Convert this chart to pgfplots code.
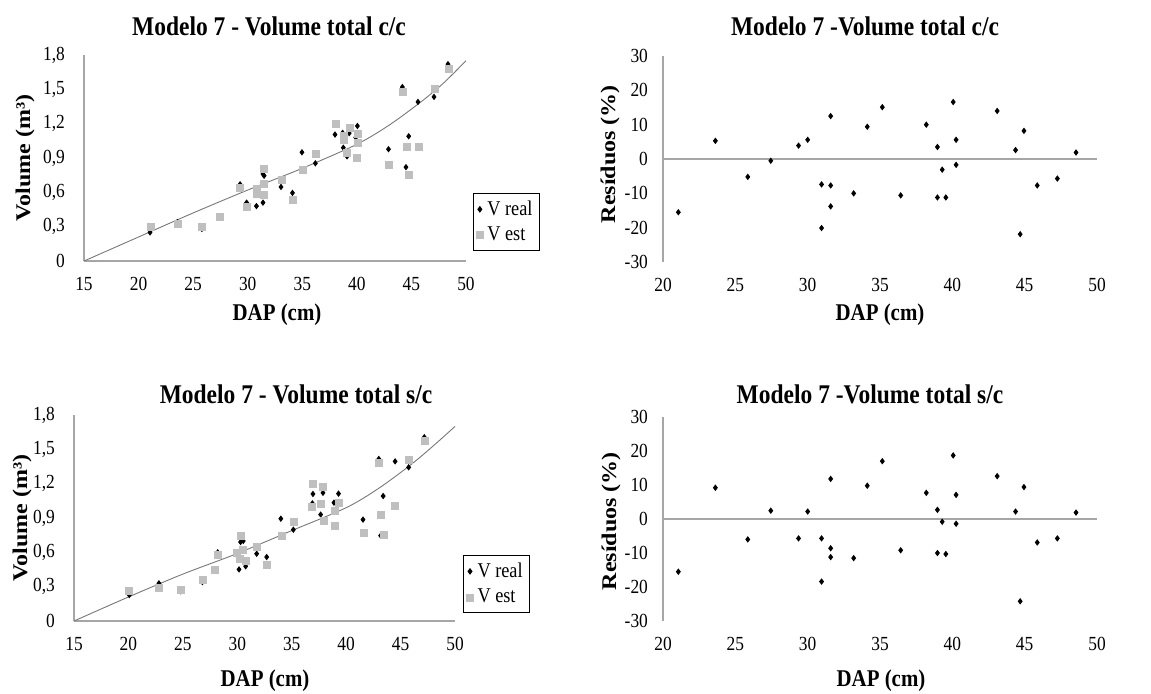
\documentclass[border=0pt]{standalone}
\usepackage{fontspec}
\setmainfont{Liberation Serif}
\usepackage{graphicx}
\usepackage{pgfplots}
\pgfplotsset{compat=1.18}

\definecolor{estgray}{RGB}{191,191,191}
\definecolor{axisgray}{RGB}{166,166,166}
\definecolor{fitgray}{RGB}{120,120,120}
\newcommand{\sq}[1]{\scalebox{0.87}[1]{#1}}
\newcommand{\ttl}[1]{\fontsize{13.5}{15}\selectfont\bfseries\sq{#1}}
\newcommand{\lbl}[1]{\fontsize{12}{14}\selectfont\bfseries\sq{#1}}

\pgfplotsset{
  base/.style={scale only axis, enlargelimits=false, clip=false,
    major tick length=0pt, tick style={draw=none},
    tick label style={font=\fontsize{10}{12}\selectfont},
    xticklabel style={yshift=-4.5pt}},
  volaxis/.style={base, width=191pt, height=103pt,
    xmin=15, xmax=50, ymin=0, ymax=1.8,
    axis lines=left, axis line style={-, draw=axisgray, line width=0.6pt},
    xtick={15,20,25,30,35,40,45,50},
    xticklabels={\sq{15},\sq{20},\sq{25},\sq{30},\sq{35},\sq{40},\sq{45},\sq{50}},
    ytick={0,0.3,0.6,0.9,1.2,1.5,1.8},
    yticklabels={\sq{0},\sq{0,3},\sq{0,6},\sq{0,9},\sq{1,2},\sq{1,5},\sq{1,8}},
    yticklabel style={xshift=-6pt},
    legend style={draw=black, line width=0.5pt,
      font=\fontsize{10.5}{12}\selectfont, inner sep=1.5pt, row sep=0.5pt,
      cells={anchor=west}},
    legend image code/.code={\draw[mark repeat=2,mark phase=2,#1]
      plot coordinates {(0cm,0cm) (0.12cm,0cm) (0.24cm,0cm)};}},
  resaxis/.style={base, width=217pt, height=103pt,
    xmin=20, xmax=50, ymin=-30, ymax=30,
    axis lines=left, x axis line style={draw=none},
    y axis line style={-, draw=axisgray, line width=0.6pt},
    xtick={20,25,30,35,40,45,50},
    xticklabels={\sq{20},\sq{25},\sq{30},\sq{35},\sq{40},\sq{45},\sq{50}},
    ytick={-30,-20,-10,0,10,20,30},
    yticklabels={\sq{-30},\sq{-20},\sq{-10},\sq{0},\sq{10},\sq{20},\sq{30}},
    yticklabel style={xshift=-4pt}},
  real/.style={only marks, mark=diamond*, mark size=1.3pt, black},
  est/.style={only marks, mark=square*, mark size=1.75pt, estgray,
    mark options={draw=estgray, fill=estgray}},
  fit/.style={fitgray, line width=0.45pt, mark=none, smooth},
}

\begin{document}
\begin{tikzpicture}
\useasboundingbox (0pt,0pt) rectangle (575.5pt,-346.5pt);

% ---------- Modelo 7 - Volume total c/c ----------
\begin{axis}[volaxis, at={(42pt,-130.5pt)}, anchor=south west,
  legend style={at={(1.018,0.33)}, anchor=north west}]
\addplot[real] coordinates {
  (21.05,0.25) (23.55,0.34) (25.8,0.28) (27.4,0.386) (29.3,0.67) (29.9,0.51)
  (30.8,0.48) (30.85,0.58) (31.4,0.51) (31.4,0.76) (31.5,0.745) (33.05,0.647)
  (34.1,0.595) (34.97,0.95) (36.2,0.854) (38.0,1.105) (38.7,1.12) (38.76,0.99)
  (39.1,0.915) (39.3,1.117) (39.9,1.08) (40.05,1.18) (42.9,0.977) (44.17,1.52)
  (44.5,0.82) (44.75,1.09) (45.6,1.39) (47.07,1.434) (48.35,1.72)
};
\addplot[est] coordinates {
  (21.1,0.297) (23.64,0.32) (25.78,0.297) (27.43,0.388) (29.32,0.638)
  (29.97,0.475) (30.85,0.627) (30.85,0.583) (31.5,0.807) (31.5,0.676)
  (31.5,0.574) (33.1,0.706) (34.1,0.534) (35.04,0.80) (36.26,0.94)
  (38.06,1.198) (38.8,1.09) (38.8,1.06) (39.35,1.163) (39.1,0.948)
  (40.08,1.114) (40.08,1.03) (40.0,0.904) (42.97,0.837) (44.26,1.475)
  (44.56,0.997) (44.8,0.75) (45.7,1.0) (47.16,1.507) (48.4,1.68)
};
\addplot[fit, forget plot] coordinates {
  (15,0) (20,0.21) (25,0.42) (30,0.62) (35,0.81) (40,1.02) (43,1.19)
  (46,1.40) (48,1.56) (50,1.75)
};
\legend{\sq{V real},\sq{V est}}
\end{axis}

% ---------- Residuos c/c ----------
\begin{axis}[resaxis, at={(331.5pt,-131pt)}, anchor=south west]
\draw[axisgray, line width=0.6pt] (axis cs:20,0) -- (axis cs:50,0);
\addplot[real] coordinates {
  (21.06,-15.5) (23.62,5.3) (25.86,-5.2) (27.45,-0.5) (29.37,3.9) (30.0,5.6)
  (30.96,-7.4) (30.96,-20.1) (31.59,12.5) (31.59,-7.7) (31.59,-13.8)
  (33.18,-10.0) (34.12,9.4) (35.16,15.1) (36.43,-10.6) (38.2,10.0)
  (38.97,3.5) (38.97,-11.2) (39.3,-3.1) (39.55,-11.2) (40.06,16.6)
  (40.26,5.6) (40.26,-1.7) (43.1,14.0) (44.37,2.6) (44.69,-21.9)
  (44.95,8.2) (45.87,-7.7) (47.26,-5.7) (48.55,1.9)
};
\end{axis}

% ---------- Modelo 7 - Volume total s/c ----------
\begin{axis}[volaxis, width=190.5pt, at={(37pt,-310.5pt)}, anchor=south west,
  legend style={at={(1.021,0.32)}, anchor=north west}]
\addplot[real] coordinates {
  (20.08,0.227) (22.8,0.329) (24.8,0.26) (26.8,0.34) (28.2,0.60) (30.0,0.57)
  (30.16,0.451) (30.77,0.478) (30.3,0.69) (30.55,0.70) (31.78,0.588)
  (32.7,0.559) (34.0,0.894) (35.15,0.798) (36.95,1.11) (37.87,1.12)
  (36.9,1.028) (37.66,0.93) (38.88,1.034) (39.3,1.113) (41.55,0.886)
  (43.0,1.416) (43.4,1.092) (43.17,0.746) (44.5,1.395) (45.74,1.343)
  (47.18,1.606)
};
\addplot[est] coordinates {
  (20.08,0.265) (22.8,0.288) (24.8,0.274) (26.8,0.358) (27.98,0.443)
  (28.2,0.577) (30.0,0.591) (30.3,0.74) (30.55,0.62) (30.25,0.542)
  (30.8,0.527) (31.8,0.65) (32.73,0.489) (34.08,0.74) (35.2,0.865)
  (36.98,1.2) (37.87,1.174) (36.9,0.996) (37.72,1.022) (38.0,0.874)
  (38.97,0.958) (39.37,1.031) (39.0,0.827) (41.6,0.766) (43.05,1.378)
  (43.2,0.923) (43.5,0.752) (44.5,1.002) (45.8,1.41) (47.27,1.57)
};
\addplot[fit, forget plot] coordinates {
  (15,0) (20,0.21) (25,0.41) (30,0.59) (35,0.79) (40,0.99) (43,1.16)
  (46,1.37) (48,1.53) (50,1.70)
};
\legend{\sq{V real},\sq{V est}}
\end{axis}

% ---------- Residuos s/c ----------
\begin{axis}[resaxis, height=102pt, at={(331.5pt,-310.5pt)}, anchor=south west]
\draw[axisgray, line width=0.6pt] (axis cs:20,0) -- (axis cs:50,0);
\addplot[real] coordinates {
  (21.06,-15.5) (23.62,9.2) (25.86,-6.0) (27.45,2.45) (29.37,-5.7) (30.0,2.2)
  (30.96,-5.7) (30.96,-18.4) (31.59,11.8) (31.59,-8.6) (31.59,-11.2)
  (33.18,-11.5) (34.12,9.8) (35.16,17.0) (36.43,-9.2) (38.2,7.7)
  (38.97,2.7) (38.97,-10.0) (39.3,-0.8) (39.55,-10.3) (40.06,18.7)
  (40.26,7.1) (40.26,-1.4) (43.1,12.6) (44.37,2.2) (44.69,-24.2)
  (44.95,9.4) (45.87,-6.9) (47.26,-5.7) (48.55,1.9)
};
\end{axis}

% titles
\node[anchor=base] at (134.5pt,-17.5pt) {\ttl{Modelo 7 - Volume total c/c}};
\node[anchor=base] at (432.5pt,-17.5pt) {\ttl{Modelo 7 -Volume total c/c}};
\node[anchor=base] at (148pt,-201.5pt) {\ttl{Modelo 7 - Volume total s/c}};
\node[anchor=base] at (435pt,-201.5pt) {\ttl{Modelo 7 -Volume total s/c}};
% x labels
\node at (138.5pt,-157.5pt) {\lbl{DAP (cm)}};
\node at (440pt,-157.5pt) {\lbl{DAP (cm)}};
\node at (132.5pt,-340.5pt) {\lbl{DAP (cm)}};
\node at (440.5pt,-340.5pt) {\lbl{DAP (cm)}};
% y labels
\node[rotate=90] at (12.5pt,-79pt) {\fontsize{12}{14}\selectfont\bfseries\scalebox{1}[0.87]{Volume (m³)}};
\node[rotate=90] at (11pt,-259pt) {\fontsize{12}{14}\selectfont\bfseries\scalebox{1}[0.87]{Volume (m³)}};
\node[rotate=90] at (305pt,-77pt) {\fontsize{12}{14}\selectfont\bfseries\scalebox{1}[0.87]{Resíduos (\%)}};
\node[rotate=90] at (305.5pt,-260.5pt) {\fontsize{12}{14}\selectfont\bfseries\scalebox{1}[0.87]{Resíduos (\%)}};
\end{tikzpicture}
\end{document}
